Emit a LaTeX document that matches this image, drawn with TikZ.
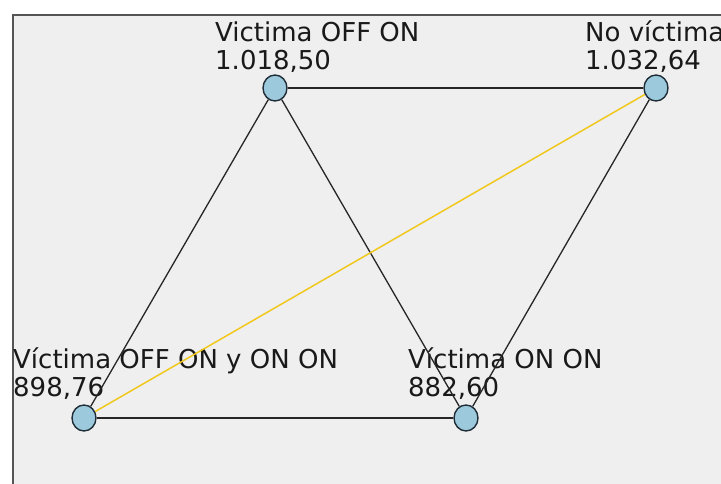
\documentclass[tikz,border=0pt]{standalone}
\usepackage{fontspec}
\setmainfont{DejaVu Sans}
\usetikzlibrary{shapes.geometric}
\definecolor{bgc}{HTML}{EFEFEF}
\definecolor{framec}{HTML}{555555}
\definecolor{nodefill}{HTML}{9DC9DD}
\definecolor{nodedraw}{HTML}{1E2D36}
\definecolor{yel}{HTML}{F0C81E}
\tikzset{
  vert/.style={ellipse, minimum width=24pt, minimum height=26pt, inner sep=0pt, fill=nodefill, draw=nodedraw, line width=1.4pt},
  lab/.style={anchor=base west, inner sep=0pt, font=\fontsize{26}{29}\selectfont, text=black!90},
  thin edge/.style={draw=black!85, line width=1.3pt},
  thick edge/.style={draw=black!85, line width=2pt},
  gold edge/.style={draw=yel, line width=1.5pt},
}
\begin{document}
\begin{tikzpicture}[x=1pt,y=-1pt]
\useasboundingbox (0,0) rectangle (721,484);
\clip (0,0) rectangle (721,484);
\fill[white] (0,0) rectangle (721,484);
\filldraw[fill=bgc, draw=framec, line width=2pt] (13,15) rectangle (740,500);
% labels
\node[lab] (la1) at (215,42) {Victima OFF ON};
\node[lab] (la2) at (215,70) {1.018,50};
\node[lab] (lb1) at (585,42) {No víctima};
\node[lab] (lb2) at (585,70) {1.032,64};
\node[lab] (lc1) at (13,368) {Víctima OFF ON y ON ON};
\node[lab] (lc2) at (13,396) {898,76};
\node[lab] (ld1) at (408,368) {Víctima ON ON};
\node[lab] (ld2) at (408,396) {882,60};
% vertices
\node[vert] (A) at (275,88) {};
\node[vert] (B) at (656,88) {};
\node[vert] (C) at (84,418) {};
\node[vert] (D) at (466,418) {};
% edges
\draw[thick edge] (A) -- (B);
\draw[thick edge] (C) -- (D);
\draw[thin edge] (A) -- (C);
\draw[thin edge] (A) -- (D);
\draw[thin edge] (B) -- (D);
\draw[gold edge] (C) -- (B);
\end{tikzpicture}
\end{document}
